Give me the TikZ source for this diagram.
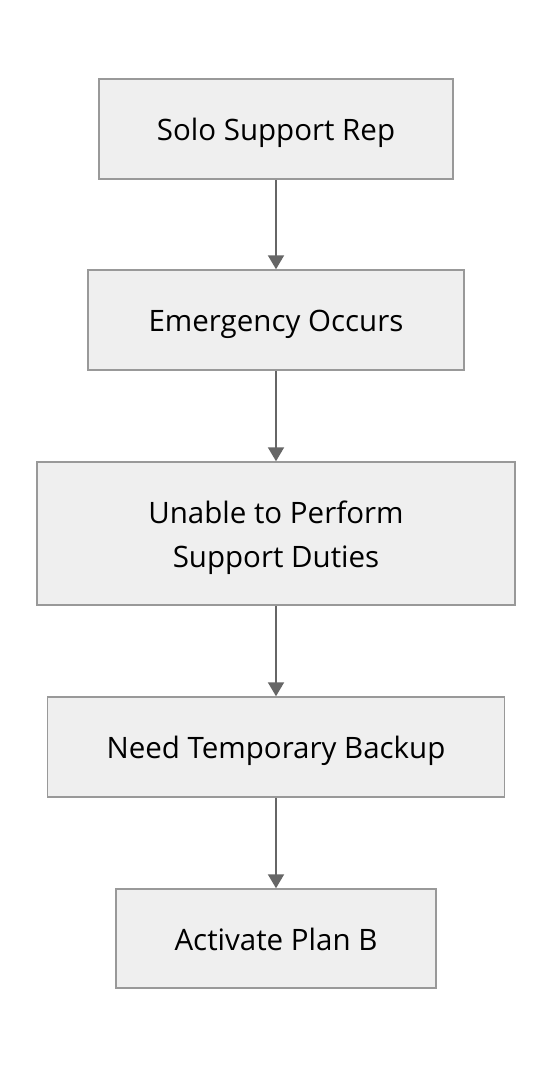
\documentclass[tikz,border=0pt]{standalone}
\usepackage{fontspec}
\setmainfont{Open Sans}
\usetikzlibrary{arrows.meta}
\definecolor{boxfill}{HTML}{EFEFEF}
\definecolor{boxline}{HTML}{999999}
\definecolor{arrowc}{HTML}{666666}
\newcommand\steptext[1]{\raisebox{-3pt}[\height][\depth]{\begin{tabular}{@{}c@{}}#1\end{tabular}}}
\begin{document}
\begin{tikzpicture}[x=1pt,y=-1pt,
  stepbox/.style={draw=boxline,fill=boxfill,line width=1.5pt,inner sep=0pt,font=\fontsize{29.5}{44}\selectfont},
  conn/.style={draw=arrowc,line width=2pt,-{Triangle[width=16pt,length=14pt]}}]
\useasboundingbox (0,0) rectangle (552,1068);
\fill[white] (0,0) rectangle (552,1068);
\node[stepbox,minimum width=354pt,minimum height=100pt] (a) at (276,129) {\steptext{Solo Support Rep}};
\node[stepbox,minimum width=376pt,minimum height=100pt] (b) at (276,320) {\steptext{Emergency Occurs}};
\node[stepbox,minimum width=478pt,minimum height=143pt] (c) at (276,533.5) {\steptext{Unable to Perform\\ Support Duties}};
\node[stepbox,minimum width=457pt,minimum height=100pt] (d) at (276,747) {\steptext{Need Temporary Backup}};
\node[stepbox,minimum width=320pt,minimum height=99pt] (e) at (276,938.5) {\steptext{Activate Plan B}};
\draw[conn] (a) -- (b);
\draw[conn] (b) -- (c);
\draw[conn] (c) -- (d);
\draw[conn] (d) -- (e);
\end{tikzpicture}
\end{document}
